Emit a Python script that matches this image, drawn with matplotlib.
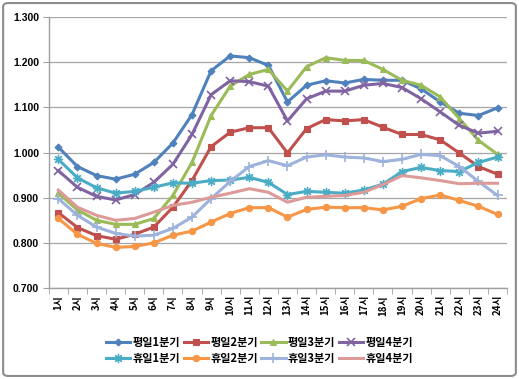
import matplotlib
matplotlib.use("Agg")
import matplotlib.pyplot as plt
from matplotlib.patches import FancyBboxPatch
import numpy as np

plt.rcParams['font.family'] = ['Noto Sans CJK KR', 'DejaVu Sans']

hours = [f"{h}시" for h in range(1, 25)]

# 평일 (weekday)
wd_q1 = [1.012, 0.969, 0.949, 0.941, 0.952, 0.978, 1.021, 1.084, 1.181, 1.214, 1.210, 1.193,
         1.112, 1.149, 1.159, 1.154, 1.162, 1.160, 1.160, 1.141, 1.112, 1.087, 1.082, 1.099]
wd_q2 = [0.867, 0.834, 0.816, 0.808, 0.819, 0.835, 0.879, 0.938, 1.013, 1.045, 1.055, 1.055,
         0.999, 1.053, 1.073, 1.070, 1.073, 1.056, 1.040, 1.040, 1.028, 0.999, 0.969, 0.952]
wd_q3 = [0.910, 0.873, 0.850, 0.841, 0.841, 0.854, 0.905, 0.978, 1.082, 1.147, 1.173, 1.184,
         1.136, 1.190, 1.210, 1.204, 1.204, 1.184, 1.160, 1.149, 1.123, 1.075, 1.027, 0.996]
wd_q4 = [0.960, 0.923, 0.903, 0.895, 0.907, 0.934, 0.974, 1.040, 1.128, 1.159, 1.157, 1.147,
         1.070, 1.119, 1.136, 1.136, 1.149, 1.153, 1.144, 1.119, 1.090, 1.060, 1.043, 1.047]
# 휴일 (holiday)
hd_q1 = [0.985, 0.944, 0.922, 0.910, 0.914, 0.923, 0.933, 0.932, 0.938, 0.939, 0.945, 0.934,
         0.907, 0.914, 0.912, 0.910, 0.917, 0.930, 0.958, 0.967, 0.960, 0.958, 0.978, 0.990]
hd_q2 = [0.854, 0.819, 0.799, 0.790, 0.792, 0.800, 0.817, 0.826, 0.846, 0.865, 0.878, 0.878,
         0.857, 0.874, 0.879, 0.878, 0.878, 0.873, 0.881, 0.898, 0.906, 0.894, 0.881, 0.863]
hd_q3 = [0.898, 0.861, 0.835, 0.821, 0.815, 0.817, 0.832, 0.857, 0.898, 0.936, 0.969, 0.982,
         0.971, 0.990, 0.995, 0.990, 0.988, 0.980, 0.985, 0.996, 0.993, 0.969, 0.936, 0.905]
hd_q4 = [0.917, 0.879, 0.861, 0.850, 0.854, 0.868, 0.883, 0.890, 0.901, 0.910, 0.920, 0.912,
         0.890, 0.901, 0.903, 0.905, 0.912, 0.929, 0.949, 0.944, 0.938, 0.931, 0.932, 0.932]

series = [
    ("평일1분기", wd_q1, "#4F81BD", "D", 3.5),
    ("평일2분기", wd_q2, "#C0504D", "s", 4.5),
    ("평일3분기", wd_q3, "#9BBB59", "^", 4.5),
    ("평일4분기", wd_q4, "#8064A2", "x", 5.5),
    ("휴일1분기", hd_q1, "#4BACC6", "$\u2733$", 6),
    ("휴일2분기", hd_q2, "#F79646", "o", 4.5),
    ("휴일3분기", hd_q3, "#9DB3DC", "+", 6.5),
    ("휴일4분기", hd_q4, "#DC9A98", None, 0),
]

fig = plt.figure(figsize=(5.19, 3.79), dpi=100)
ax = fig.add_axes([0.094, 0.240, 0.883, 0.715])

x = np.arange(1, 25)
handles = []
for name, vals, col, mk, ms in series:
    if mk is None:
        h, = ax.plot(x, vals, color=col, lw=2.2, label=name)
    elif mk in ("x", "+"):
        h, = ax.plot(x, vals, color=col, lw=2.2, marker=mk, ms=ms, mew=1.2, label=name)
    else:
        h, = ax.plot(x, vals, color=col, lw=2.2, marker=mk, ms=ms, mew=0.8, label=name)
    handles.append(h)

ax.set_xlim(0.5, 24.5)
ax.set_ylim(0.7, 1.3)
yt = np.arange(0.7, 1.31, 0.1)
ax.set_yticks(yt)
ax.set_yticklabels([f"{v:.3f}" for v in yt],
                   fontsize=7.5, fontweight='bold', family=['Liberation Sans'])
ax.set_xticks(x)
ax.set_xticklabels(hours, rotation=90, fontsize=7, fontweight='bold')
ax.set_xticks(np.arange(0.5, 25, 1), minor=True)
ax.tick_params(axis='x', which='major', length=0, pad=5)
ax.tick_params(axis='x', which='minor', length=4, color='#A0A0A0')
ax.tick_params(axis='y', length=4, color='#A0A0A0', pad=3)
ax.grid(axis='y', color='#A6A6A6', lw=0.9)
ax.set_axisbelow(True)
for s in ['top', 'right']:
    ax.spines[s].set_visible(False)
for s in ['left', 'bottom']:
    ax.spines[s].set_color('#A0A0A0')
    ax.spines[s].set_linewidth(1.0)

# legend is filled column by column, so interleave to get row order
order = [0, 4, 1, 5, 2, 6, 3, 7]
fig.legend([handles[i] for i in order], [series[i][0] for i in order],
           loc='center', bbox_to_anchor=(0.5, 0.075), ncol=4, frameon=False,
           prop={'size': 8, 'weight': 'bold'}, handlelength=2.2, handletextpad=0.2,
           columnspacing=0.3, labelspacing=0.3, borderaxespad=0)

border = FancyBboxPatch((0.006, 0.008), 0.988, 0.984, boxstyle="round,pad=0,rounding_size=0.01",
                        transform=fig.transFigure, fill=False, ec='#8C8C8C', lw=1.5)
fig.patches.append(border)

fig.savefig("out.png", dpi=100)
